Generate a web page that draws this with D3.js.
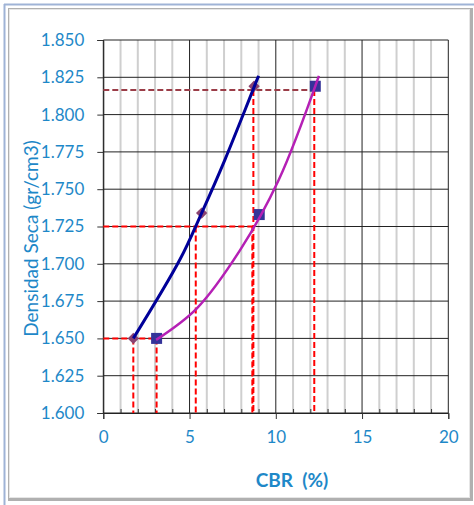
<!DOCTYPE html>
<html>
<head>
<meta charset="utf-8">
<script src="https://cdn.jsdelivr.net/npm/d3@7"></script>
<style>
  body { margin: 0; background: #fff; }
  svg { display: block; font-family: Lato, "Open Sans", sans-serif; }
</style>
</head>
<body>
<svg width="474" height="505"></svg>
<script>
// tick values
const xTicks = [0, 5, 10, 15, 20];
const xMinor = [1, 2, 3, 4, 6, 7, 8, 9, 11, 12, 13, 14, 16, 17, 18, 19];
const yTicks = [1.600, 1.625, 1.650, 1.675, 1.700, 1.725, 1.750, 1.775, 1.800, 1.825, 1.850];

// measured points (diamonds / squares)
const cbrDiamond = [1.74, 5.70, 8.74];
const densDiamond = [1.650, 1.734, 1.819];
const cbrSquare = [3.09, 9.04, 12.29];
const densSquare = [1.650, 1.733, 1.819];

// trend curves
const blueCurveX = [1.74, 4.45, 5.70, 7.06, 9.00];
const blueCurveY = [1.650, 1.703, 1.734, 1.770, 1.826];
const pinkCurveX = [3.06, 5.41, 7.92, 10.16, 12.50];
const pinkCurveY = [1.649, 1.670, 1.709, 1.756, 1.826];

// red dashed guides
const guideH = [[1.650, 3.09], [1.725, 8.70]];           // [density, cbr end]
const guideV = [[1.74, 1.650], [3.09, 1.650], [5.36, 1.725], [8.64, 1.725], [8.70, 1.8165], [12.23, 1.8165]];
const darkGuide = [1.8165, 12.23];

const svg = d3.select('svg');
const blue = '#1E88C8';

// frame
svg.append('line').attr('x1', 4).attr('x2', 474).attr('y1', 4.5).attr('y2', 4.5)
  .attr('stroke', '#9fb3d6').attr('stroke-width', 2);
svg.append('line').attr('x1', 4.5).attr('x2', 4.5).attr('y1', 4).attr('y2', 505)
  .attr('stroke', '#9fb3d6').attr('stroke-width', 2);
svg.append('rect').attr('x', 9.5).attr('y', 9.5).attr('width', 462).attr('height', 490)
  .attr('fill', '#fff').attr('stroke', '#b0b0b0').attr('stroke-width', 3);
svg.append('rect').attr('x', 9.5).attr('y', 9.5).attr('width', 460).attr('height', 488)
  .attr('fill', '#fff').attr('stroke', '#e6e6e6').attr('stroke-width', 1);

const x = d3.scaleLinear().domain([0, 20]).range([103.3, 448.3]);
const y = d3.scaleLinear().domain([1.6, 1.85]).range([413, 40]);

const grid = svg.append('g');
grid.selectAll('line.minor').data(xMinor).enter().append('line')
  .attr('class', 'minor')
  .attr('x1', d => x(d)).attr('x2', d => x(d))
  .attr('y1', y(1.6)).attr('y2', y(1.85))
  .attr('stroke', '#cfcfcf').attr('stroke-width', 2);
grid.selectAll('line.h').data(yTicks).enter().append('line')
  .attr('class', 'h')
  .attr('x1', x(0)).attr('x2', x(20))
  .attr('y1', d => y(d)).attr('y2', d => y(d))
  .attr('stroke', '#222').attr('stroke-width', 1);
grid.selectAll('line.major').data(xTicks).enter().append('line')
  .attr('class', 'major')
  .attr('x1', d => x(d)).attr('x2', d => x(d))
  .attr('y1', y(1.6)).attr('y2', y(1.85))
  .attr('stroke', '#222').attr('stroke-width', 1);

// axes
const yAxis = svg.append('g')
  .attr('transform', `translate(${x(0)},0)`)
  .call(d3.axisLeft(y).tickValues(yTicks).tickFormat(d3.format('.3f')).tickSize(6).tickPadding(13));
const xAxis = svg.append('g')
  .attr('transform', `translate(0,${y(1.6)})`)
  .call(d3.axisBottom(x).tickValues(xTicks).tickSize(6).tickPadding(12));
svg.append('g')
  .attr('transform', `translate(0,${y(1.6)})`)
  .call(d3.axisTop(x).tickValues(xMinor).tickSize(4).tickFormat(''))
  .call(g => g.select('.domain').remove());
[yAxis, xAxis].forEach(g => {
  g.select('.domain').attr('stroke', '#222');
  g.selectAll('.tick text').attr('fill', blue).style('font-size', '17px')
    .style('font-family', 'Lato, sans-serif');
});
svg.selectAll('.tick line').attr('stroke', '#333');

// red guides
const guides = svg.append('g')
  .attr('stroke', '#ff0000').attr('stroke-width', 2).attr('stroke-dasharray', '6,3');
guides.selectAll('line.gh').data(guideH).enter().append('line')
  .attr('x1', x(0)).attr('x2', d => x(d[1]))
  .attr('y1', d => y(d[0])).attr('y2', d => y(d[0]));
guides.selectAll('line.gv').data(guideV).enter().append('line')
  .attr('x1', d => x(d[0])).attr('x2', d => x(d[0]))
  .attr('y1', d => y(d[1])).attr('y2', y(1.6));
svg.append('line')
  .attr('x1', x(0)).attr('x2', x(darkGuide[1]))
  .attr('y1', y(darkGuide[0])).attr('y2', y(darkGuide[0]))
  .attr('stroke', '#9b3d48').attr('stroke-width', 2).attr('stroke-dasharray', '6,3');

// markers
svg.selectAll('path.diamond').data(d3.zip(cbrDiamond, densDiamond)).enter().append('path')
  .attr('d', d3.symbol(d3.symbolSquare, 64))
  .attr('transform', d => `translate(${x(d[0])},${y(d[1])}) rotate(45)`)
  .attr('fill', '#8a4270');
svg.selectAll('path.square').data(d3.zip(cbrSquare, densSquare)).enter().append('path')
  .attr('d', d3.symbol(d3.symbolSquare, 121))
  .attr('transform', d => `translate(${x(d[0])},${y(d[1])})`)
  .attr('fill', '#343399');

// trend lines
const line = d3.line().x(d => x(d[0])).y(d => y(d[1])).curve(d3.curveCatmullRom);
svg.append('path').datum(d3.zip(blueCurveX, blueCurveY))
  .attr('d', line).attr('fill', 'none').attr('stroke', '#000099').attr('stroke-width', 3);
svg.append('path').datum(d3.zip(pinkCurveX, pinkCurveY))
  .attr('d', line).attr('fill', 'none').attr('stroke', '#b520b5').attr('stroke-width', 2.5);

// titles
svg.append('text')
  .attr('transform', `translate(38,${(y(1.6) + y(1.85)) / 2 + 12}) rotate(-90)`)
  .attr('text-anchor', 'middle')
  .attr('fill', blue).style('font-size', '19px')
  .text('Densidad Seca (gr/cm3)');
svg.append('text')
  .attr('x', 292).attr('y', 487)
  .attr('text-anchor', 'middle')
  .attr('fill', blue).style('font-size', '19px').style('font-weight', 'bold')
  .attr('xml:space', 'preserve')
  .text('CBR  (%)');
</script>
</body>
</html>
